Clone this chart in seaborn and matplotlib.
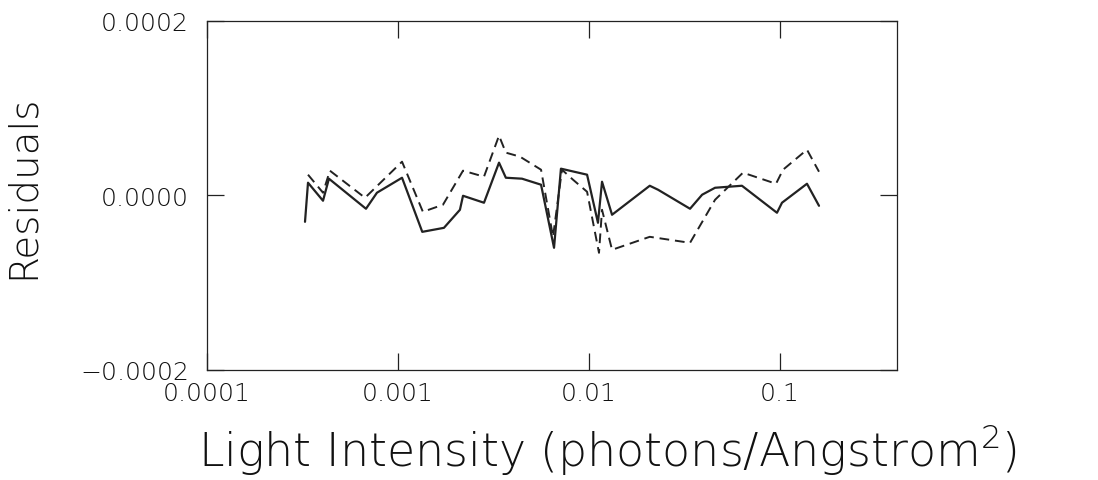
import numpy as np
import pandas as pd
import matplotlib
matplotlib.use("Agg")
import matplotlib.pyplot as plt
import seaborn as sns

# solid series
x_solid = [3.26e-4, 3.38e-4, 4.05e-4, 4.35e-4, 6.80e-4, 7.76e-4, 1.05e-3, 1.34e-3,
           1.74e-3, 2.11e-3, 2.19e-3, 2.82e-3, 3.38e-3, 3.67e-3, 4.46e-3, 5.61e-3,
           6.56e-3, 7.13e-3, 9.77e-3, 1.114e-2, 1.17e-2, 1.32e-2, 2.08e-2, 2.30e-2,
           3.38e-2, 3.91e-2, 4.57e-2, 6.32e-2, 9.64e-2, 0.1024, 0.1384, 0.160]
y_solid = [-3.05e-5, 1.44e-5, -6.3e-6, 1.90e-5, -1.55e-5, 2.9e-6, 2.01e-5, -4.20e-5,
           -3.74e-5, -1.67e-5, -0.6e-6, -8.6e-6, 3.74e-5, 2.01e-5, 1.90e-5, 1.21e-5,
           -6.03e-5, 3.05e-5, 2.36e-5, -3.16e-5, 1.55e-5, -2.24e-5, 1.09e-5, 6.3e-6,
           -1.55e-5, 0.6e-6, 8.6e-6, 1.09e-5, -2.01e-5, -8.6e-6, 1.32e-5, -1.21e-5]

# dashed series
x_dash = [3.38e-4, 4.05e-4, 4.40e-4, 6.72e-4, 1.05e-3, 1.35e-3, 1.72e-3, 2.19e-3,
          2.82e-3, 3.38e-3, 3.67e-3, 4.35e-3, 5.61e-3, 6.48e-3, 7.22e-3, 8.25e-3,
          9.77e-3, 1.128e-2, 1.17e-2, 1.32e-2, 2.08e-2, 3.38e-2, 4.57e-2, 6.40e-2,
          9.53e-2, 0.1037, 0.1384, 0.160]
y_dash = [2.36e-5, 2.9e-6, 2.82e-5, -2.9e-6, 3.85e-5, -1.90e-5, -1.09e-5, 2.82e-5,
          2.13e-5, 6.84e-5, 4.89e-5, 4.43e-5, 2.93e-5, -4.77e-5, 2.93e-5, 1.78e-5,
          4.0e-6, -6.61e-5, -1.67e-5, -6.26e-5, -4.77e-5, -5.46e-5, -5.2e-6, 2.59e-5,
          1.32e-5, 2.93e-5, 5.23e-5, 2.70e-5]

x_ticks = [1e-4, 1e-3, 1e-2, 1e-1]
x_tick_labels = ["0.0001", "0.001", "0.01", "0.1"]
y_ticks = [-2e-4, 0.0, 2e-4]
y_tick_labels = ["\u22120.0002", "0.0000", "0.0002"]

sns.set_style("ticks")
plt.rcParams["font.family"] = ["DejaVu Sans"]
plt.rcParams["font.weight"] = "light"
plt.rcParams["axes.labelweight"] = "light"

fig = plt.figure(figsize=(10.98, 4.81), dpi=100)
ax = fig.add_axes([0.1885, 0.2297, 0.6285, 0.7246])

sns.lineplot(x=x_solid, y=y_solid, ax=ax, color="#222222", linewidth=1.6,
             sort=False, estimator=None)
sns.lineplot(x=x_dash, y=y_dash, ax=ax, color="#222222", linewidth=1.4,
             sort=False, estimator=None, linestyle=(0, (5, 3)))

ax.set_xscale("log")
ax.set_xlim(1e-4, 0.41)
ax.set_ylim(-2e-4, 2e-4)
ax.set_xticks(x_ticks)
ax.set_xticklabels(x_tick_labels)
ax.minorticks_off()
ax.set_yticks(y_ticks)
ax.set_yticklabels(y_tick_labels)

ax.tick_params(axis="both", direction="in", length=12, width=0.9,
               top=True, right=True, colors="#222222", labelcolor="#111111")
ax.tick_params(axis="x", labelsize=18, pad=8)
ax.tick_params(axis="y", labelsize=18, pad=13)
for s in ax.spines.values():
    s.set_linewidth(0.9)
    s.set_color("#222222")

ax.set_xlabel(r"Light Intensity (photons/Angstrom$^{2}$)", fontsize=33,
              color="#111111")
ax.set_ylabel("Residuals", fontsize=28, color="#111111")
ax.xaxis.set_label_coords(0.58, -0.148)
ax.yaxis.set_label_coords(-0.239, 0.526)

fig.savefig("out.png", dpi=100)
